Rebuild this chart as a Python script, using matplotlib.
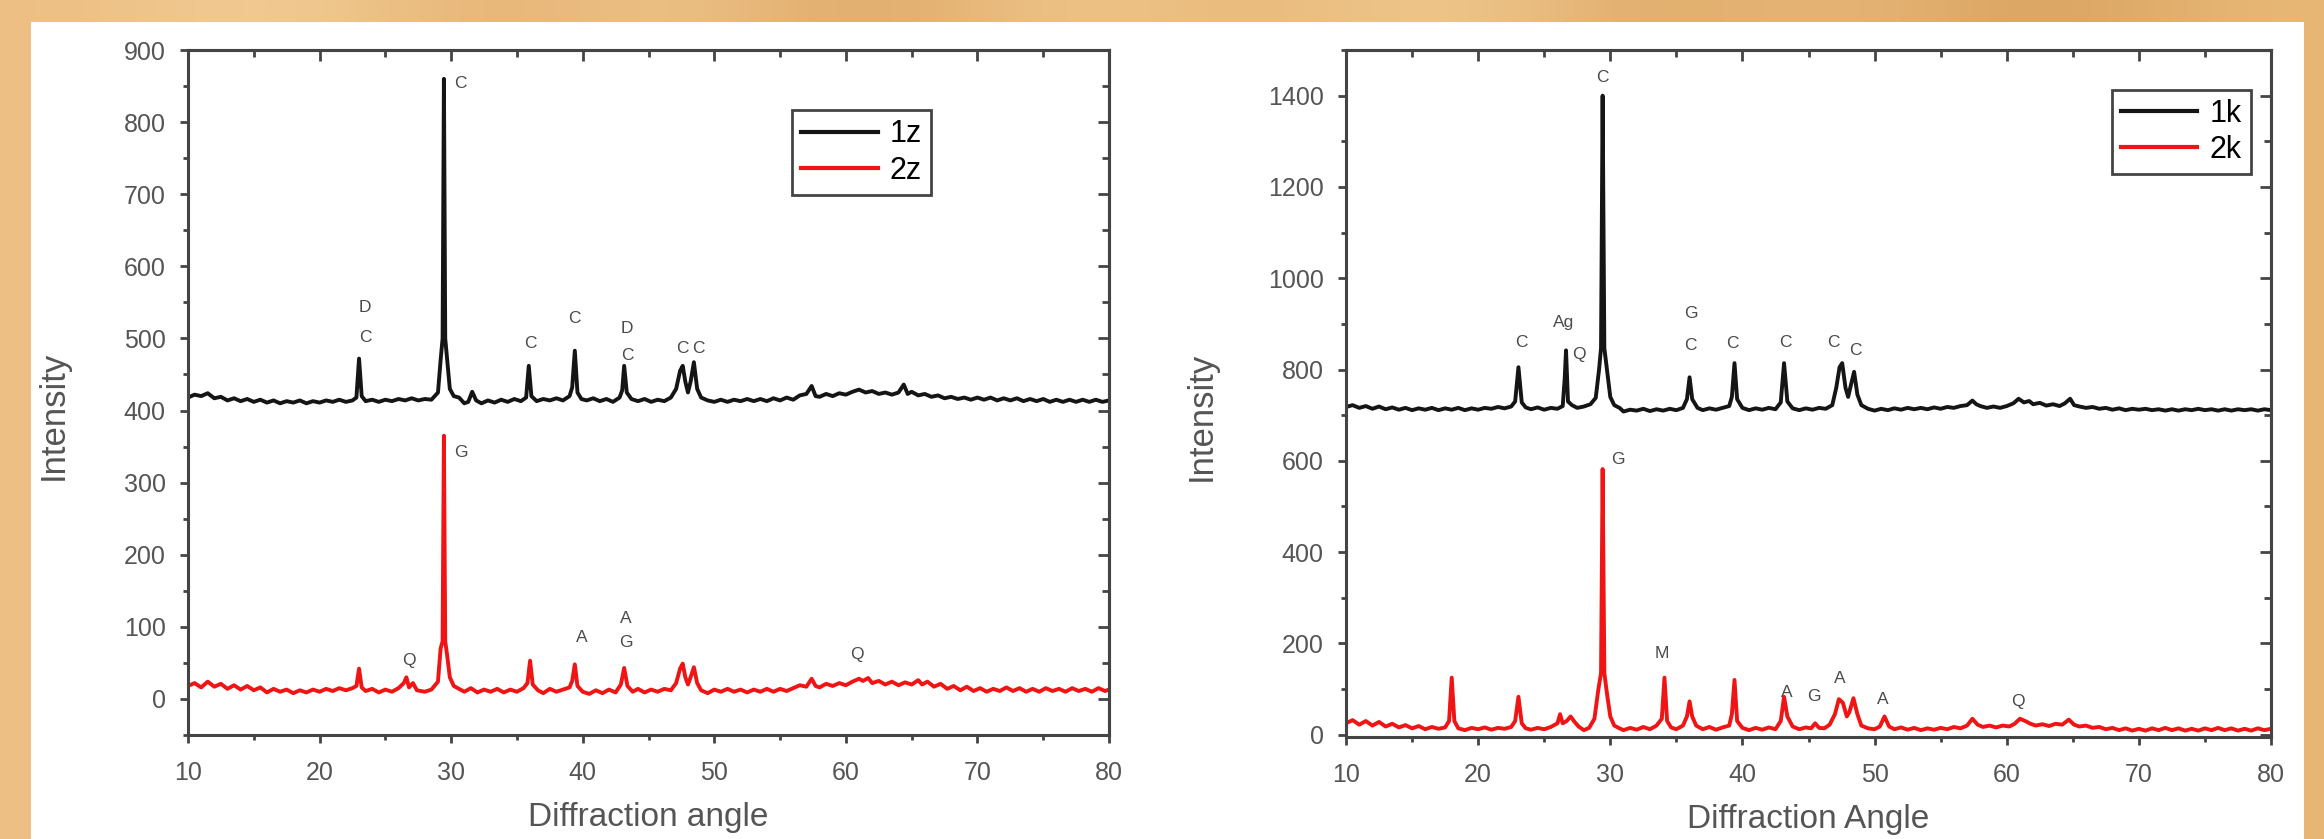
import numpy as np
import matplotlib.pyplot as plt
from matplotlib.patches import Rectangle
from matplotlib.ticker import MultipleLocator
from matplotlib.colors import to_rgb

plt.rcParams['font.family'] = ['Liberation Sans', 'DejaVu Sans']

# XRD traces, (2-theta, intensity)
z1 = [(10.0, 418), (10.5, 422), (11.0, 420), (11.5, 424), (12.0, 417), (12.5, 419), (13.0, 414), (13.5, 417),
      (14.0, 413), (14.5, 416), (15.0, 412), (15.5, 415), (16.0, 411), (16.5, 414), (17.0, 410), (17.5, 413),
      (18.0, 411), (18.5, 414), (19.0, 410), (19.5, 413), (20.0, 411), (20.5, 414), (21.0, 412), (21.5, 415),
      (22.0, 412), (22.5, 414), (22.8, 418), (23.0, 472), (23.2, 420), (23.5, 413), (24.0, 415), (24.5, 412),
      (25.0, 415), (25.5, 413), (26.0, 416), (26.5, 414), (27.0, 417), (27.5, 414), (28.0, 416), (28.5, 415),
      (29.0, 425), (29.2, 470), (29.35, 500), (29.45, 860), (29.55, 500), (29.7, 470), (29.9, 430), (30.2, 420),
      (30.6, 418), (31.0, 410), (31.3, 412), (31.6, 426), (31.9, 414), (32.3, 410), (32.8, 414), (33.3, 411),
      (33.8, 415), (34.3, 412), (34.8, 416), (35.3, 413), (35.7, 418), (35.9, 462), (36.1, 420), (36.5, 413),
      (37.0, 416), (37.5, 414), (38.0, 417), (38.5, 414), (39.0, 420), (39.2, 432), (39.4, 483), (39.6, 425),
      (39.9, 416), (40.3, 414), (40.8, 417), (41.3, 413), (41.8, 416), (42.3, 412), (42.8, 418), (43.0, 428),
      (43.15, 462), (43.35, 425), (43.7, 416), (44.2, 413), (44.7, 416), (45.2, 412), (45.7, 415), (46.2, 413),
      (46.7, 418), (47.1, 430), (47.4, 455), (47.6, 462), (47.8, 440), (48.0, 425), (48.2, 440), (48.45, 467),
      (48.7, 430), (49.0, 418), (49.5, 414), (50.0, 412), (50.5, 415), (51.0, 412), (51.5, 415), (52.0, 413),
      (52.5, 416), (53.0, 413), (53.5, 416), (54.0, 413), (54.5, 417), (55.0, 414), (55.5, 418), (56.0, 415),
      (56.5, 421), (57.0, 423), (57.4, 434), (57.7, 420), (58.0, 419), (58.5, 423), (59.0, 420), (59.5, 424),
      (60.0, 422), (60.5, 426), (61.0, 429), (61.5, 425), (62.0, 427), (62.5, 423), (63.0, 425), (63.5, 422),
      (64.0, 425), (64.4, 436), (64.7, 423), (65.0, 426), (65.5, 421), (66.0, 423), (66.5, 419), (67.0, 421),
      (67.5, 417), (68.0, 419), (68.5, 416), (69.0, 418), (69.5, 415), (70.0, 418), (70.5, 415), (71.0, 418),
      (71.5, 414), (72.0, 417), (72.5, 414), (73.0, 417), (73.5, 413), (74.0, 416), (74.5, 413), (75.0, 416),
      (75.5, 412), (76.0, 415), (76.5, 412), (77.0, 415), (77.5, 412), (78.0, 415), (78.5, 412), (79.0, 415),
      (79.5, 412), (80.0, 414)]

z2 = [(10.0, 18), (10.5, 22), (11.0, 16), (11.5, 24), (12.0, 17), (12.5, 21), (13.0, 14), (13.5, 19),
      (14.0, 13), (14.5, 18), (15.0, 12), (15.5, 16), (16.0, 9), (16.5, 14), (17.0, 10), (17.5, 13),
      (18.0, 8), (18.5, 12), (19.0, 9), (19.5, 13), (20.0, 10), (20.5, 14), (21.0, 11), (21.5, 15),
      (22.0, 12), (22.5, 15), (22.8, 18), (23.0, 42), (23.2, 16), (23.5, 11), (24.0, 14), (24.5, 9),
      (25.0, 13), (25.5, 10), (26.0, 15), (26.4, 22), (26.6, 30), (26.8, 16), (27.1, 22), (27.4, 12),
      (28.0, 10), (28.5, 13), (29.0, 24), (29.2, 70), (29.35, 80), (29.45, 365), (29.55, 80), (29.7, 60),
      (29.9, 30), (30.2, 18), (30.6, 14), (31.0, 10), (31.5, 15), (32.0, 9), (32.5, 13), (33.0, 10),
      (33.5, 14), (34.0, 9), (34.5, 13), (35.0, 10), (35.5, 15), (35.8, 22), (36.0, 53), (36.2, 20),
      (36.6, 12), (37.0, 8), (37.5, 14), (38.0, 10), (38.5, 13), (39.0, 16), (39.2, 25), (39.4, 48),
      (39.6, 18), (40.0, 10), (40.5, 7), (41.0, 12), (41.5, 8), (42.0, 13), (42.5, 9), (42.9, 20),
      (43.15, 43), (43.4, 18), (43.8, 10), (44.2, 14), (44.7, 9), (45.2, 13), (45.7, 10), (46.2, 14),
      (46.7, 12), (47.1, 22), (47.4, 42), (47.6, 49), (47.8, 30), (48.0, 20), (48.2, 30), (48.45, 44),
      (48.7, 22), (49.0, 12), (49.5, 8), (50.0, 13), (50.5, 10), (51.0, 14), (51.5, 10), (52.0, 13),
      (52.5, 9), (53.0, 13), (53.5, 10), (54.0, 14), (54.5, 10), (55.0, 14), (55.5, 11), (56.0, 15),
      (56.5, 19), (57.0, 17), (57.4, 28), (57.7, 18), (58.0, 16), (58.5, 21), (59.0, 18), (59.5, 22),
      (60.0, 19), (60.5, 24), (61.0, 28), (61.3, 25), (61.7, 29), (62.0, 22), (62.5, 25), (63.0, 20),
      (63.5, 24), (64.0, 19), (64.5, 23), (65.0, 20), (65.5, 26), (65.8, 20), (66.2, 24), (66.7, 17),
      (67.2, 21), (67.7, 14), (68.2, 18), (68.7, 12), (69.2, 17), (69.7, 11), (70.2, 15), (70.7, 10),
      (71.2, 14), (71.7, 11), (72.2, 16), (72.7, 11), (73.2, 15), (73.7, 10), (74.2, 14), (74.7, 10),
      (75.2, 15), (75.7, 11), (76.2, 14), (76.7, 10), (77.2, 15), (77.7, 11), (78.2, 14), (78.7, 10),
      (79.2, 15), (79.7, 11), (80.0, 13)]

k1 = [(10.0, 718), (10.5, 722), (11.0, 716), (11.5, 720), (12.0, 714), (12.5, 719), (13.0, 713), (13.5, 717),
      (14.0, 712), (14.5, 716), (15.0, 711), (15.5, 715), (16.0, 712), (16.5, 716), (17.0, 711), (17.5, 715),
      (18.0, 712), (18.5, 716), (19.0, 711), (19.5, 715), (20.0, 712), (20.5, 716), (21.0, 714), (21.5, 718),
      (22.0, 715), (22.5, 719), (22.8, 730), (23.05, 805), (23.3, 728), (23.6, 717), (24.0, 713), (24.5, 717),
      (25.0, 712), (25.5, 716), (26.0, 714), (26.4, 720), (26.55, 780), (26.65, 842), (26.8, 730), (27.1, 722),
      (27.5, 716), (28.0, 719), (28.5, 724), (28.9, 738), (29.15, 800), (29.3, 847), (29.42, 1400), (29.55, 847),
      (29.75, 800), (30.0, 740), (30.3, 722), (30.7, 716), (31.0, 708), (31.5, 712), (32.0, 710), (32.5, 714),
      (33.0, 709), (33.5, 713), (34.0, 710), (34.5, 714), (35.0, 711), (35.5, 716), (35.8, 735), (36.0, 783),
      (36.2, 735), (36.6, 716), (37.0, 711), (37.5, 715), (38.0, 712), (38.5, 716), (39.0, 720), (39.2, 740),
      (39.4, 814), (39.6, 735), (40.0, 716), (40.5, 711), (41.0, 715), (41.5, 712), (42.0, 716), (42.5, 713),
      (42.9, 728), (43.15, 814), (43.4, 730), (43.8, 715), (44.3, 711), (44.8, 715), (45.3, 712), (45.8, 716),
      (46.3, 714), (46.8, 722), (47.1, 760), (47.35, 805), (47.55, 814), (47.8, 760), (48.0, 740), (48.2, 765),
      (48.45, 795), (48.7, 745), (49.0, 722), (49.5, 714), (50.0, 710), (50.5, 714), (51.0, 711), (51.5, 715),
      (52.0, 712), (52.5, 716), (53.0, 713), (53.5, 716), (54.0, 713), (54.5, 717), (55.0, 714), (55.5, 718),
      (56.0, 716), (56.5, 720), (57.0, 722), (57.4, 732), (57.7, 724), (58.0, 720), (58.5, 716), (59.0, 719),
      (59.5, 716), (60.0, 720), (60.5, 726), (60.9, 736), (61.3, 728), (61.7, 731), (62.0, 724), (62.5, 727),
      (63.0, 721), (63.5, 724), (64.0, 720), (64.4, 726), (64.8, 736), (65.1, 722), (65.5, 719), (66.0, 716),
      (66.5, 718), (67.0, 714), (67.5, 716), (68.0, 712), (68.5, 715), (69.0, 711), (69.5, 714), (70.0, 712),
      (70.5, 714), (71.0, 711), (71.5, 713), (72.0, 710), (72.5, 713), (73.0, 710), (73.5, 713), (74.0, 711),
      (74.5, 714), (75.0, 711), (75.5, 713), (76.0, 710), (76.5, 713), (77.0, 710), (77.5, 713), (78.0, 711),
      (78.5, 713), (79.0, 710), (79.5, 713), (80.0, 711)]

k2 = [(10.0, 25), (10.5, 32), (11.0, 22), (11.5, 30), (12.0, 20), (12.5, 28), (13.0, 18), (13.5, 24),
      (14.0, 16), (14.5, 21), (15.0, 14), (15.5, 19), (16.0, 12), (16.5, 17), (17.0, 13), (17.5, 16),
      (17.8, 30), (18.0, 125), (18.2, 30), (18.5, 14), (19.0, 10), (19.5, 15), (20.0, 12), (20.5, 16),
      (21.0, 11), (21.5, 15), (22.0, 13), (22.5, 17), (22.8, 30), (23.05, 83), (23.3, 25), (23.6, 14),
      (24.0, 11), (24.5, 15), (25.0, 12), (25.5, 17), (26.0, 25), (26.2, 45), (26.4, 25), (26.7, 30),
      (27.0, 40), (27.3, 28), (27.6, 18), (28.0, 10), (28.4, 15), (28.8, 35), (29.1, 100), (29.3, 135),
      (29.42, 582), (29.55, 135), (29.75, 90), (30.0, 40), (30.3, 20), (30.7, 14), (31.0, 10), (31.5, 15),
      (32.0, 11), (32.5, 17), (33.0, 12), (33.5, 20), (33.9, 35), (34.1, 125), (34.3, 30), (34.6, 16),
      (35.0, 12), (35.5, 20), (35.8, 40), (36.0, 73), (36.2, 40), (36.5, 20), (37.0, 12), (37.5, 17),
      (38.0, 11), (38.5, 16), (39.0, 20), (39.2, 45), (39.4, 120), (39.6, 30), (40.0, 15), (40.5, 10),
      (41.0, 15), (41.5, 11), (42.0, 16), (42.5, 12), (42.9, 30), (43.15, 83), (43.4, 40), (43.8, 18),
      (44.3, 12), (44.8, 16), (45.2, 14), (45.5, 25), (45.8, 15), (46.2, 14), (46.6, 22), (47.0, 45),
      (47.3, 78), (47.6, 70), (47.9, 40), (48.1, 50), (48.4, 80), (48.7, 45), (49.0, 20), (49.5, 14),
      (50.0, 12), (50.4, 18), (50.75, 40), (51.1, 18), (51.5, 12), (52.0, 16), (52.5, 11), (53.0, 15),
      (53.5, 10), (54.0, 14), (54.5, 11), (55.0, 15), (55.5, 12), (56.0, 17), (56.5, 14), (57.0, 20),
      (57.4, 35), (57.8, 22), (58.2, 17), (58.7, 20), (59.2, 16), (59.7, 20), (60.2, 18), (60.6, 24),
      (61.0, 35), (61.4, 30), (61.8, 24), (62.2, 20), (62.7, 23), (63.2, 19), (63.7, 24), (64.2, 22),
      (64.7, 33), (65.1, 22), (65.5, 18), (66.0, 20), (66.5, 15), (67.0, 17), (67.5, 12), (68.0, 15),
      (68.5, 10), (69.0, 14), (69.5, 9), (70.0, 13), (70.5, 9), (71.0, 14), (71.5, 10), (72.0, 15),
      (72.5, 10), (73.0, 14), (73.5, 9), (74.0, 13), (74.5, 9), (75.0, 14), (75.5, 10), (76.0, 15),
      (76.5, 10), (77.0, 14), (77.5, 9), (78.0, 13), (78.5, 9), (79.0, 14), (79.5, 10), (80.0, 13)]

# phase labels (text, x, y)
marks_z1 = [("D", 23.45, 543), ("C", 23.45, 501), ("C", 30.67, 854), ("C", 36.0, 493), ("C", 39.4, 528),
            ("D", 43.37, 514), ("C", 43.37, 476), ("C", 47.6, 486), ("C", 48.76, 486)]
marks_z2 = [("G", 30.75, 342), ("Q", 26.8, 53), ("A", 39.95, 85), ("A", 43.3, 112), ("G", 43.3, 78),
            ("Q", 60.8, 62)]
marks_k1 = [("C", 29.4, 1440), ("C", 23.28, 860), ("Ag", 26.46, 903), ("Q", 27.6, 832), ("G", 36.08, 923),
            ("C", 36.08, 853), ("C", 39.26, 858), ("C", 43.28, 860), ("C", 46.9, 860), ("C", 48.58, 842)]
marks_k2 = [("G", 30.55, 602), ("M", 33.9, 179), ("A", 43.35, 92), ("G", 45.4, 83), ("A", 47.4, 124),
            ("A", 50.6, 77), ("Q", 60.85, 72)]

wood = ['#EDBF84', '#F4D09A', '#E4B06F', '#EFC68C', '#DCA562', '#F1C98F',
        '#E7B675', '#F3CD96', '#DDA764', '#EABC7E', '#D69E5A', '#E8B877']

BLACK = '#151515'
RED = '#f01414'
GREY = '#555555'


def unpack(pts):
    a = np.array(pts, dtype=float)
    return a[:, 0], a[:, 1]


def style(ax, ylim, ymaj, ymin):
    ax.set_xlim(10, 80)
    ax.set_ylim(*ylim)
    ax.xaxis.set_major_locator(MultipleLocator(10))
    ax.xaxis.set_minor_locator(MultipleLocator(5))
    ax.yaxis.set_major_locator(MultipleLocator(ymaj))
    ax.yaxis.set_minor_locator(MultipleLocator(ymin))
    for s in ax.spines.values():
        s.set_linewidth(2.2)
        s.set_color('#444444')
    ax.tick_params(which='both', direction='out', width=2, color='#444444',
                   labelcolor=GREY, labelsize=18)
    ax.tick_params(which='major', length=6)
    ax.tick_params(which='minor', length=3.5)
    ax.tick_params(axis='x', pad=13)
    ax.tick_params(axis='y', pad=10)

    # Origin style: inward ticks on the top and right frame
    top = ax.secondary_xaxis('top')
    top.xaxis.set_major_locator(MultipleLocator(10))
    top.xaxis.set_minor_locator(MultipleLocator(5))
    top.tick_params(which='both', direction='in', width=2, color='#444444', labeltop=False)
    top.tick_params(which='major', length=8)
    top.tick_params(which='minor', length=5)
    top.spines['top'].set_linewidth(2.2)
    top.spines['top'].set_color('#444444')
    right = ax.secondary_yaxis('right')
    right.yaxis.set_major_locator(MultipleLocator(ymaj))
    right.yaxis.set_minor_locator(MultipleLocator(ymin))
    right.tick_params(which='both', direction='in', width=2, color='#444444', labelright=False)
    right.tick_params(which='major', length=8)
    right.tick_params(which='minor', length=5)
    right.spines['right'].set_linewidth(2.2)
    right.spines['right'].set_color('#444444')


fig = plt.figure(figsize=(23.24, 8.39), dpi=100)

# wooden backdrop and white slide panel
bg = fig.add_axes([0, 0, 1, 1], zorder=-2)
bg.imshow(np.array([[to_rgb(c) for c in wood]]), aspect='auto', extent=[0, 1, 0, 1],
          interpolation='bicubic')
bg.axis('off')
fig.add_artist(Rectangle((31 / 2324, 0), 2273 / 2324, 817 / 839, transform=fig.transFigure,
                         facecolor='white', edgecolor='none', zorder=-1))

ax1 = fig.add_axes([188 / 2324, 1 - 735 / 839, 921 / 2324, 685 / 839])
ax2 = fig.add_axes([1346 / 2324, 1 - 737 / 839, 925 / 2324, 687 / 839])

panels = [
    (ax1, z1, z2, '1z', '2z', marks_z1, marks_z2, (-50, 900), 100, 50,
     'Diffraction angle', (0.656, 0.912)),
    (ax2, k1, k2, '1k', '2k', marks_k1, marks_k2, (-5, 1500), 200, 100,
     'Diffraction Angle', (0.828, 0.942)),
]

for ax, s1, s2, n1, n2, m1, m2, ylim, ymaj, ymin, xlab, legpos in panels:
    x, y = unpack(s1)
    ax.plot(x, y, color=BLACK, lw=2.8, label=n1)
    x, y = unpack(s2)
    ax.plot(x, y, color=RED, lw=2.8, label=n2)
    for t, tx, ty in m1 + m2:
        ax.text(tx, ty, t, ha='center', va='center', fontsize=12.5, color='#4a4a4a')
    style(ax, ylim, ymaj, ymin)
    ax.set_xlabel(xlab, fontsize=24, color=GREY)
    ax.xaxis.set_label_coords(0.5, -0.098)
    ax.set_ylabel('Intensity', fontsize=25, color=GREY)
    ax.yaxis.set_label_coords(-0.128 if ax is ax1 else -0.139, 0.467)
    leg = ax.legend(loc='upper left', bbox_to_anchor=legpos, borderaxespad=0, fontsize=22,
                    handlelength=2.5, handletextpad=0.4, labelspacing=0.2, borderpad=0.3,
                    fancybox=False, edgecolor='#444444', framealpha=1)
    leg.get_frame().set_linewidth(2)
    for line in leg.get_lines():
        line.set_linewidth(3)

fig.savefig('out.png', dpi=100)
